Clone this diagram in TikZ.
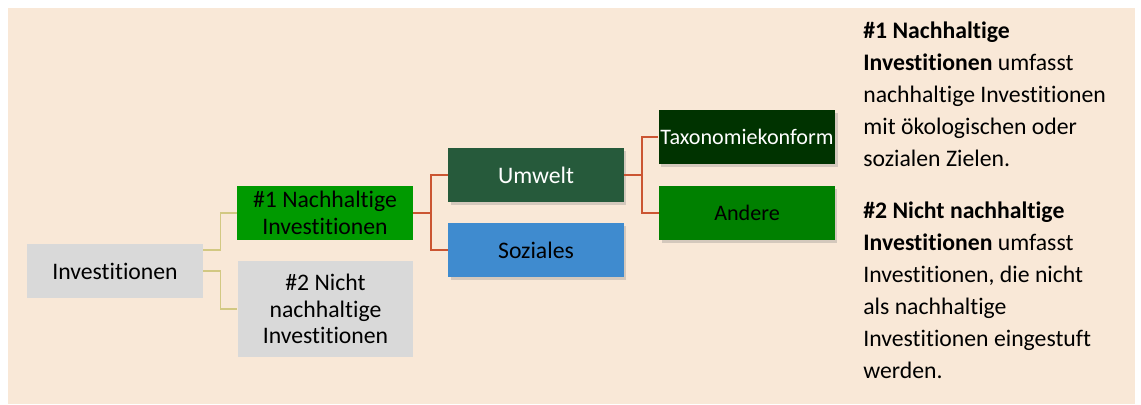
\documentclass[tikz,border=0pt]{standalone}
\usepackage{fontspec}
\setmainfont[Ligatures=NoCommon]{Carlito}
\usetikzlibrary{shadows}
\definecolor{peach}{HTML}{F9E8D7}
\definecolor{boxgrey}{HTML}{D9D9D9}
\definecolor{sustgreen}{HTML}{009A00}
\definecolor{envgreen}{HTML}{265A3B}
\definecolor{socblue}{HTML}{3F8BCF}
\definecolor{taxgreen}{HTML}{003300}
\definecolor{othgreen}{HTML}{008000}
\definecolor{khaki}{HTML}{D2C882}
\definecolor{rust}{HTML}{CB5532}
\tikzset{catbox/.style={
    rectangle,
    align=center,
    inner sep=1pt,
    minimum height=1.08cm,
    minimum width=3.52cm,
    font=\fontsize{13.5}{15}\selectfont
  },
  greybox/.style={catbox,fill=boxgrey},
  sustbox/.style={catbox,fill=sustgreen},
  sbox/.style={catbox,drop shadow={shadow xshift=0.05cm,shadow yshift=-0.06cm,opacity=0.3}},
  envbox/.style={sbox,fill=envgreen,text=white},
  socbox/.style={sbox,fill=socblue},
  taxbox/.style={sbox,fill=taxgreen,text=white,font=\fontsize{12.6}{14}\selectfont},
  othbox/.style={sbox,fill=othgreen,font=\fontsize{12.6}{14}\selectfont},
  kline/.style={draw=khaki,line width=0.7pt},
  rline/.style={draw=rust,line width=1.2pt},
}
\begin{document}
\begin{tikzpicture}[x=0.02cm,y=-0.02cm]
  \useasboundingbox (0,0) rectangle (1141,405);
  \fill[peach] (8,8) rectangle (1135,404);
  \node [greybox] (inv) at (115,271) {Investitionen};
  \node [sustbox] (nach) at (325,213) {\#1 Nachhaltige\\Investitionen};
  \node [greybox,minimum height=1.92cm] (nicht) at (325.5,309) {\#2 Nicht\\nachhaltige\\Investitionen};
  \node [envbox] (umwelt) at (536,175) {Umwelt};
  \node [socbox] (sozial) at (536,250) {Soziales};
  \node [taxbox] (taxo) at (747,137) {Taxonomiekonform};
  \node [othbox] (andere) at (747,213) {Andere};
  \draw[kline] ([yshift=0.42cm]inv.east) -- ++(0.34cm,0) |- (nach.west);
  \draw[kline] (inv.east) -- ++(0.34cm,0) |- (nicht.west);
  \draw[rline] (nach.east) -- ++(0.36cm,0) |- (umwelt.west);
  \draw[rline] (nach.east) -- ++(0.36cm,0) |- (sozial.west);
  \draw[rline] (umwelt.east) -- ++(0.36cm,0) |- (taxo.west);
  \draw[rline] (umwelt.east) -- ++(0.36cm,0) |- (andere.west);
  % explanation
  \node [anchor=north west,inner sep=0pt,align=left,
    font=\fontsize{13.5}{18.2}\selectfont] (legend) at (863,22) {%
    \textbf{\#1 Nachhaltige}\\
    \textbf{Investitionen} umfasst\\
    nachhaltige Investitionen\\
    mit ökologischen oder\\
    sozialen Zielen.\\[0.4cm]
    \textbf{\#2 Nicht nachhaltige}\\
    \textbf{Investitionen} umfasst\\
    Investitionen, die nicht\\
    als nachhaltige\\
    Investitionen eingestuft\\
    werden.};
\end{tikzpicture}
\end{document}
